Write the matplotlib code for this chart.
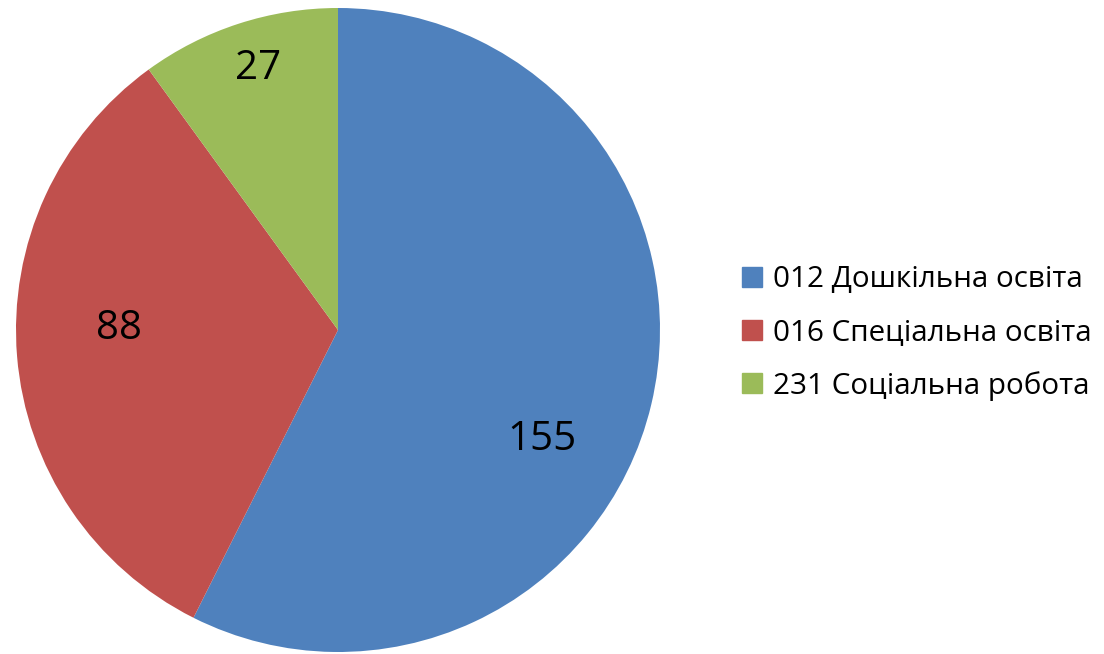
import matplotlib.pyplot as plt
from matplotlib.lines import Line2D
import numpy as np

plt.rcParams['font.family'] = ['Open Sans', 'DejaVu Sans']

# data
labels = ['012 Дошкільна освіта', '016 Спеціальна освіта', '231 Соціальна робота']
values = [155, 88, 27]
colors = ['#4F81BD', '#C0504D', '#9BBB59']

fig = plt.figure(figsize=(11.04, 6.54), dpi=100)
ax = fig.add_axes([16 / 1104, 2 / 654, 644 / 1104, 644 / 654])

wedges, _ = ax.pie(values, colors=colors, startangle=90, counterclock=False,
                   radius=1, wedgeprops=dict(linewidth=0))
ax.set_xlim(-1, 1)
ax.set_ylim(-1, 1)
ax.set_aspect('equal')

# value labels, placed roughly like the reference
lab_r = [0.72, 0.68, 0.85]
lab_shift = [-15, -5, -1]   # degrees of offset from mid angle
for w, v, r, s in zip(wedges, values, lab_r, lab_shift):
    ang = np.deg2rad((w.theta1 + w.theta2) / 2 + s)
    ax.text(r * np.cos(ang), r * np.sin(ang), str(v), ha='center', va='center',
            fontsize=29, color='black')

# legend
handles = [Line2D([], [], marker='s', linestyle='none', markersize=14,
                  markerfacecolor=c, markeredgecolor=c) for c in colors]
fig.legend(handles, labels, loc='center left', bbox_to_anchor=(742 / 1104, 1 - 333 / 654),
           frameon=False, fontsize=21.3, handlelength=0.7, handletextpad=0.34,
           labelspacing=0.8, borderpad=0, borderaxespad=0)

fig.savefig('out.png', dpi=100)
